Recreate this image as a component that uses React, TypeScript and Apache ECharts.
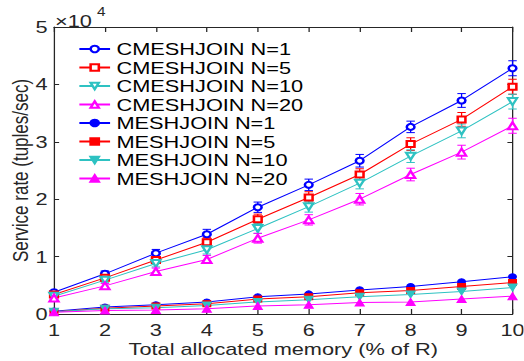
import React, { useEffect, useRef } from "react";
import * as echarts from "echarts";

// ---------- data (tuples/sec) ----------
const memoryPct = [1, 2, 3, 4, 5, 6, 7, 8, 9, 10];

const cmeshN1 = [3800, 7000, 10600, 13900, 18600, 22500, 26700, 32600, 37200, 42800];
const cmeshN5 = [3400, 6300, 9400, 12500, 16500, 20300, 24300, 29600, 33900, 39600];
const cmeshN10 = [3100, 5900, 8800, 11200, 14900, 18700, 22800, 27500, 31900, 37000];
const cmeshN20 = [2800, 4900, 7400, 9500, 13200, 16400, 20000, 24300, 28200, 32800];

const cmeshErrN1 = [300, 500, 650, 850, 900, 1000, 1100, 1000, 1200, 1300];
const cmeshErrN5 = [300, 450, 600, 800, 900, 1000, 1000, 1100, 1200, 1300];
const cmeshErrN10 = [300, 450, 600, 750, 850, 950, 1000, 1100, 1200, 1300];
const cmeshErrN20 = [300, 400, 600, 700, 850, 900, 1000, 1100, 1200, 1300];

const meshN1 = [500, 1200, 1600, 2100, 3000, 3500, 4200, 4800, 5600, 6500];
const meshN5 = [400, 1000, 1400, 1800, 2600, 3000, 3700, 4100, 4800, 5500];
const meshN10 = [400, 900, 1100, 1500, 2100, 2500, 3000, 3400, 3900, 4600];
const meshN20 = [300, 600, 700, 900, 1400, 1600, 2000, 2100, 2600, 3100];

const yTickValues = [0, 1, 2, 3, 4, 5];
const yScale = 10000;

// ---------- layout ----------
const W = 524;
const H = 361;
const STRETCH = 1.28;
const IW = W / STRETCH;
const FONT = "'Liberation Sans', Arial, Helvetica, sans-serif";
const AXIS_COLOR = "#262626";

const BLUE = "#0000FF";
const RED = "#FF0000";
const CYAN = "#2EC2C2";
const MAGENTA = "#FF00FF";

function lineSeries(name: string, vals: number[], color: string, symbol: string, rotate: number, size: number) {
  return {
    type: "line",
    name,
    data: memoryPct.map((x, i) => [x, vals[i]]),
    symbol,
    symbolSize: size,
    symbolRotate: rotate,
    showSymbol: true,
    lineStyle: { color, width: 1 },
    itemStyle: { color, borderColor: color, borderWidth: 1 },
    emphasis: { disabled: true },
    z: 3,
  };
}

function errSeries(name: string, vals: number[], errs: number[], color: string) {
  return {
    type: "custom",
    name,
    data: memoryPct.map((x, i) => [x, vals[i], errs[i]]),
    encode: { x: 0, y: 1 },
    silent: true,
    z: 2,
    renderItem: (_params: any, api: any) => {
      const x = api.value(0);
      const y = api.value(1);
      const e = api.value(2);
      const top = api.coord([x, y + e]);
      const bot = api.coord([x, y - e]);
      const hw = 3.3;
      const style = { stroke: color, lineWidth: 1 };
      return {
        type: "group",
        children: [
          { type: "line", shape: { x1: top[0], y1: top[1], x2: bot[0], y2: bot[1] }, style },
          { type: "line", shape: { x1: top[0] - hw, y1: top[1], x2: top[0] + hw, y2: top[1] }, style },
          { type: "line", shape: { x1: bot[0] - hw, y1: bot[1], x2: bot[0] + hw, y2: bot[1] }, style },
        ],
      };
    },
  };
}

const legendNames = [
  "CMESHJOIN N=1",
  "CMESHJOIN N=5",
  "CMESHJOIN N=10",
  "CMESHJOIN N=20",
  "MESHJOIN N=1",
  "MESHJOIN N=5",
  "MESHJOIN N=10",
  "MESHJOIN N=20",
];

export default function App() {
  const ref = useRef<HTMLDivElement>(null);
  useEffect(() => {
    if (!ref.current) return;
    const chart = echarts.init(ref.current, null, { renderer: "svg" });
    const axisCommonX = {
      type: "value",
      min: 1,
      max: 10,
      interval: 1,
      splitLine: { show: false },
      axisLine: { show: true, onZero: false, lineStyle: { color: AXIS_COLOR, width: 1 } },
      axisTick: { show: true, inside: true, length: 5, lineStyle: { color: AXIS_COLOR, width: 1 } },
    };
    const axisCommonY = {
      type: "value",
      min: 0,
      max: yTickValues[yTickValues.length - 1] * yScale,
      interval: yScale,
      splitLine: { show: false },
      axisLine: { show: true, onZero: false, lineStyle: { color: AXIS_COLOR, width: 1 } },
      axisTick: { show: true, inside: true, length: 4, lineStyle: { color: AXIS_COLOR, width: 1 } },
    };
    chart.setOption({
      animation: false,
      backgroundColor: "#ffffff",
      grid: {
        left: 54 / STRETCH,
        right: 11 / STRETCH,
        top: 27,
        bottom: 47,
        containLabel: false,
        outerBoundsMode: "none",
      },
      legend: {
        orient: "vertical",
        left: 56,
        top: 35,
        itemWidth: 24,
        itemHeight: 8,
        itemGap: 0.5,
        selectedMode: false,
        data: legendNames,
        textStyle: { fontSize: 17, lineHeight: 18, color: "#000", fontFamily: FONT },
      },
      xAxis: [
        {
          ...axisCommonX,
          position: "bottom",
          axisLabel: { color: AXIS_COLOR, fontSize: 17, lineHeight: 17, margin: 7, fontFamily: FONT },
          name: "Total allocated memory (% of R)",
          nameLocation: "middle",
          nameGap: 26,
          nameMoveOverlap: false,
          nameTextStyle: { color: AXIS_COLOR, fontSize: 17, lineHeight: 17, fontFamily: FONT },
        },
        {
          ...axisCommonX,
          position: "top",
          axisLabel: { show: false },
        },
      ],
      yAxis: [
        {
          ...axisCommonY,
          position: "left",
          axisLabel: {
            color: AXIS_COLOR,
            fontSize: 17,
            lineHeight: 17,
            margin: 5,
            fontFamily: FONT,
            formatter: (v: number) => String(v / yScale),
          },
          name: "Service rate (tuples/sec)",
          nameLocation: "middle",
          nameGap: 18,
          nameMoveOverlap: false,
          nameTextStyle: { color: AXIS_COLOR, fontSize: 17, lineHeight: 17, fontFamily: FONT },
        },
        {
          ...axisCommonY,
          position: "right",
          axisLabel: { show: false },
        },
      ],
      graphic: [
        {
          type: "text",
          left: 55 / STRETCH,
          top: 12,
          style: { text: "×10", fontSize: 17, fill: AXIS_COLOR, fontFamily: FONT },
        },
        {
          type: "text",
          left: 97 / STRETCH,
          top: 6,
          style: { text: "4", fontSize: 12, fill: AXIS_COLOR, fontFamily: FONT },
        },
      ],
      series: [
        errSeries("err1", cmeshN1, cmeshErrN1, BLUE),
        errSeries("err5", cmeshN5, cmeshErrN5, RED),
        errSeries("err10", cmeshN10, cmeshErrN10, CYAN),
        errSeries("err20", cmeshN20, cmeshErrN20, MAGENTA),
        lineSeries(legendNames[0], cmeshN1, BLUE, "emptyCircle", 0, 6),
        lineSeries(legendNames[1], cmeshN5, RED, "emptyRect", 0, 6),
        lineSeries(legendNames[2], cmeshN10, CYAN, "emptyTriangle", 180, 7),
        lineSeries(legendNames[3], cmeshN20, MAGENTA, "emptyTriangle", 0, 7),
        lineSeries(legendNames[4], meshN1, BLUE, "circle", 0, 6),
        lineSeries(legendNames[5], meshN5, RED, "rect", 0, 6),
        lineSeries(legendNames[6], meshN10, CYAN, "triangle", 180, 7),
        lineSeries(legendNames[7], meshN20, MAGENTA, "triangle", 0, 7),
      ],
    });
    return () => chart.dispose();
  }, []);
  return (
    <div style={{ position: "fixed", left: 0, top: 0, width: W, height: H, overflow: "hidden", background: "#fff" }}>
      <div
        ref={ref}
        style={{ width: IW, height: H, transform: `scaleX(${STRETCH})`, transformOrigin: "0 0" }}
      />
    </div>
  );
}
